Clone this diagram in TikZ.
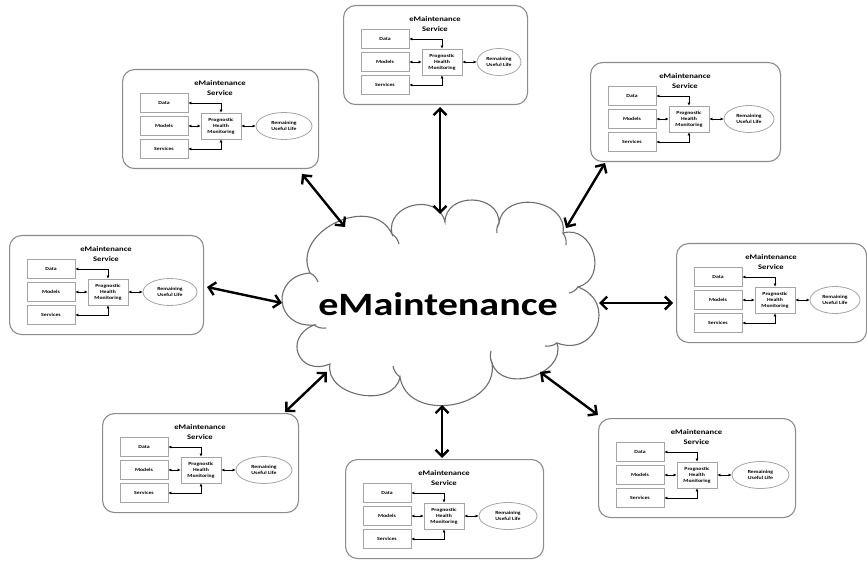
\documentclass[tikz,border=0pt]{standalone}
\usepackage{fontspec}
\setmainfont{Carlito}[FakeStretch=1.23]
\usetikzlibrary{calc,arrows.meta,shapes.geometric}
\definecolor{frameg}{RGB}{140,140,140}
\definecolor{boxg}{RGB}{165,165,165}
\definecolor{cloudg}{RGB}{110,110,110}
\tikzset{
  frame/.style={draw=frameg, line width=1.1pt, rounded corners=12pt, fill=white, inner sep=0pt},
  ttl/.style={font=\fontsize{7}{9.2}\selectfont\bfseries, align=center, inner sep=0pt},
  ibox/.style={draw=boxg, line width=0.8pt, minimum width=48pt, minimum height=19pt, inner sep=0pt,
    font=\fontsize{4.7}{5.8}\selectfont\bfseries},
  pbox/.style={draw=boxg, line width=0.8pt, minimum width=40pt, minimum height=26pt, inner sep=0pt,
    align=center, font=\fontsize{4.7}{5.8}\selectfont\bfseries},
  rul/.style={ellipse, draw=boxg, line width=0.8pt, minimum height=27pt, inner sep=0pt,
    align=center, font=\fontsize{4.7}{5.8}\selectfont\bfseries},
  ia/.style={line width=0.8pt, {Latex[length=3pt,width=3pt]}-{Latex[length=3pt,width=3pt]}},
  big/.style={line width=2.4pt, {Straight Barb[length=6.5pt,width=13pt]}-{Straight Barb[length=6.5pt,width=13pt]}},
  cloudline/.style={draw=cloudg, line width=1.1pt, fill=white},
  hook/.style={draw=cloudg, line width=1.1pt},
  pics/svc/.style={code={
    \node[frame, minimum width=#1pt, minimum height=99pt, anchor=north west] (-frame) at (0,0) {};
    \node[ttl] (-ttl) at ({#1/2},19) {eMaintenance\\Service};
    \node[ibox] (-data) at (42,34) {Data};
    \node[ibox] (-models) at (42,57) {Models};
    \node[ibox] (-services) at (42,80) {Services};
    \node[pbox] (-phm) at (99,57) {Prognostic\\Health\\Monitoring};
    \node[rul, minimum width={(#1-140)*1pt}] (-rul) at ({(128+#1)/2},57) {Remaining\\Useful Life};
    \draw[ia] (-data.east) -| (-phm.north);
    \draw[ia] (-models.east) -- (-phm.west);
    \draw[ia] (-services.east) -| (-phm.south);
    \draw[ia] (-phm.east) -- (-rul.west);
  }}
}
\begin{document}
\begin{tikzpicture}[x=1pt,y=-1pt]
\useasboundingbox[fill=white] (0,0) rectangle (867,561);
% service boxes
\pic (s1) at (343,5) {svc=184};
\pic (s2) at (122,69) {svc=196};
\pic (s3) at (590,62) {svc=190};
\pic (s4) at (9,235) {svc=194};
\pic (s5) at (676,243) {svc=190};
\pic (s6) at (102,413) {svc=196};
\pic (s7) at (345,459) {svc=198};
\pic (s8) at (598,418) {svc=197};
% cloud
\coordinate (c1) at (310,273);
\coordinate (c2) at (392,234);
\coordinate (c3) at (445,222);
\coordinate (c4) at (499,223);
\coordinate (c5) at (563,233);
\coordinate (c6) at (578,287);
\coordinate (c7) at (557,343);
\coordinate (c8) at (492,363);
\coordinate (c9) at (400,377);
\coordinate (c10) at (330,364);
\coordinate (c11) at (314,325);
\path[cloudline] (c1)
  .. controls ($(c1)!46pt!90:(c2)$) and ($(c2)!46pt!-90:(c1)$) .. (c2)
  .. controls ($(c2)!31pt!90:(c3)$) and ($(c3)!31pt!-90:(c2)$) .. (c3)
  .. controls ($(c3)!30pt!90:(c4)$) and ($(c4)!30pt!-90:(c3)$) .. (c4)
  .. controls ($(c4)!34pt!90:(c5)$) and ($(c5)!34pt!-90:(c4)$) .. (c5)
  .. controls ($(c5)!32pt!90:(c6)$) and ($(c6)!32pt!-90:(c5)$) .. (c6)
  .. controls ($(c6)!42pt!90:(c7)$) and ($(c7)!42pt!-90:(c6)$) .. (c7)
  .. controls ($(c7)!33pt!90:(c8)$) and ($(c8)!33pt!-90:(c7)$) .. (c8)
  .. controls ($(c8)!47pt!90:(c9)$) and ($(c9)!47pt!-90:(c8)$) .. (c9)
  .. controls ($(c9)!33pt!90:(c10)$) and ($(c10)!33pt!-90:(c9)$) .. (c10)
  .. controls ($(c10)!34pt!90:(c11)$) and ($(c11)!34pt!-90:(c10)$) .. (c11)
  .. controls ($(c11)!40pt!90:(c1)$) and ($(c1)!40pt!-90:(c11)$) .. (c1) -- cycle;
% small inner hooks at the cusps
\draw[hook] (c1) to[bend left=20] (318,282);
\draw[hook] (c2) to[bend left=20] (399,244);
\draw[hook] (c4) to[bend right=20] (497,233);
\draw[hook] (c5) to[bend left=20] (566,245);
\draw[hook] (c6) to[bend left=20] (569,293);
\draw[hook] (c7) to[bend left=20] (545,346);
\draw[hook] (c8) to[bend left=20] (491,351);
\draw[hook] (c9) to[bend left=20] (393,366);
\draw[hook] (c11) to[bend right=20] (326,328);
\node[font=\fontsize{32.6}{36}\selectfont\bfseries, anchor=base] (em) at (438,315) {eMaintenance};
% arrow ends
\coordinate (a1o) at (440,107); \coordinate (a1i) at (440,214);
\coordinate (a2o) at (302,174); \coordinate (a2i) at (345,227);
\coordinate (a3o) at (605,163); \coordinate (a3i) at (566,228);
\coordinate (a4o) at (207,287); \coordinate (a4i) at (282,303);
\coordinate (a5o) at (673,303); \coordinate (a5i) at (599,303);
\coordinate (a6o) at (285,412); \coordinate (a6i) at (327,372);
\coordinate (a7o) at (442,458); \coordinate (a7i) at (442,405);
\coordinate (a8o) at (598,415); \coordinate (a8i) at (540,372);
\foreach \k in {1,...,8} {\draw[big] (a\k o) -- (a\k i);}
\end{tikzpicture}
\end{document}
